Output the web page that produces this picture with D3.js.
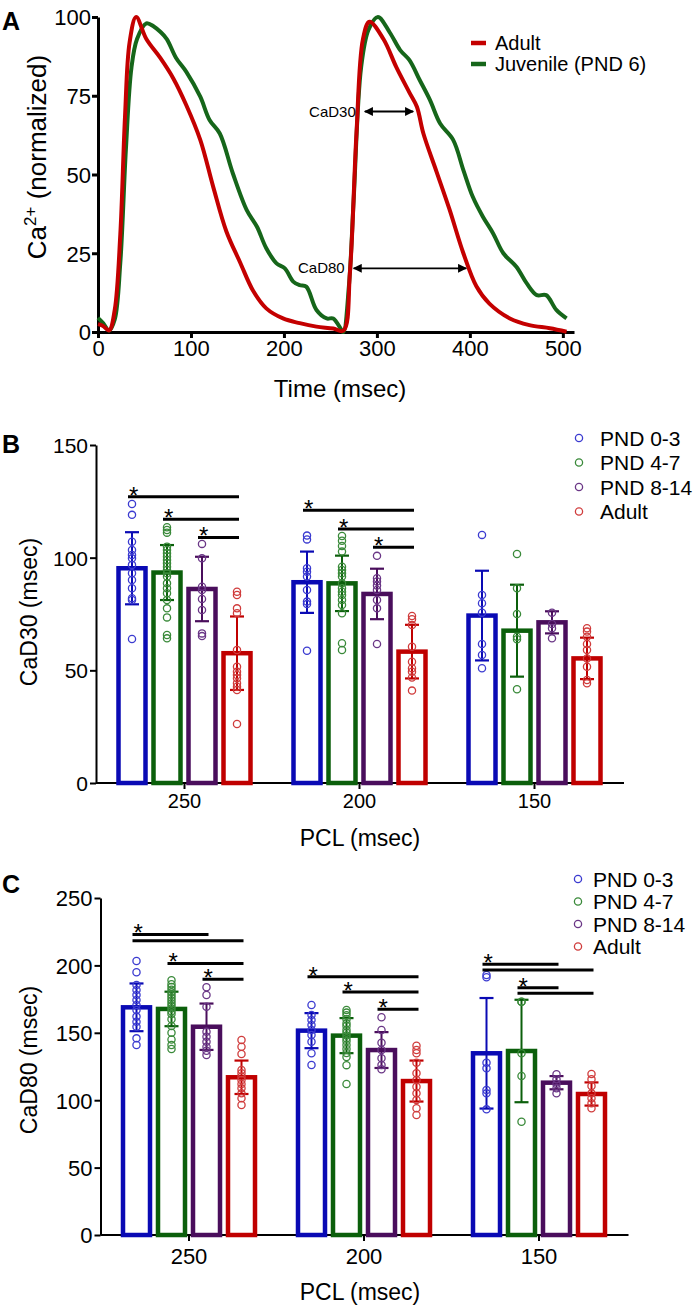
<!DOCTYPE html>
<html><head><meta charset="utf-8">
<script src="https://cdn.jsdelivr.net/npm/d3@7"></script>
<style>body{margin:0;background:#fff}svg{display:block;font-family:"Liberation Sans",Arial,sans-serif}</style>
</head><body><svg id="c" width="696" height="1307"></svg>
<script>
// ---------- Panel A data ----------
const adultT = [0,5,12,18,24,29,34,41,52,67,81,95,110,124,138,153,167,181,199,217,235,253,264,271,278,285,292,307,321,335,343,350,364,378,393,407,421,443,464,486,504];
const adultV = [2.5,2,0.5,7,31,68,92,100,93,87,80.5,72,61,46,32,22,13,7.5,4.3,2.8,1.7,1.1,0.4,19,63,93,98.5,93,84,76,71.5,63,51,39,25,14.5,9,4.3,2.2,1.2,0.1];
const juvT = [0,5,12,18,24,30,36,42,52,60,67,74,84,95,110,120,131,145,160,171,181,192,201,210,217,224,235,246,253,262,264,270,275,283,291,301,314,325,335,346,357,368,382,393,403,414,425,436,450,461,472,482,493,504];
const juvV = [4.5,3,0.5,4,22,58,84,93,98,97,95.3,93,87,82.6,74.7,67.3,63,50.4,38.7,33.4,26.6,21.8,20.2,16,14.9,14.4,7,4.3,4.3,0.6,0,15,42,84,96,100,95,89.5,86.3,80,73.7,66.2,61,51.4,43,36.6,31.3,25,20.7,15.5,11.7,11.7,7,4.3];
const aXTicks = [0,100,200,300,400,500];
const aYTicks = [0,25,50,75,100];
const aLegend = ["Adult","Juvenile (PND 6)"];
// CaD annotations: [label, t start, t end, level]
const aAnnot = [["CaD30",287,339,70],["CaD80",275,396,20.2]];

// ---------- Panels B / C data ----------
const groups = ["250","200","150"];
const series = ["PND 0-3","PND 4-7","PND 8-14","Adult"];

const cad30Mean = [[95.3,93.4,86.1,57.6],[89.1,88.6,83.9,58.3],[74.3,67.6,71.3,55.3]];
const cad30Sd = [[16,12.2,14.3,16.3],[13.6,12.3,11.2,11.9],[19.9,20.4,4.9,9.2]];
const cad30Pts250 = [[123.8,119,107.1,103.4,101.2,99.7,96.8,93.1,90.1,86.4,82,81.2,63.9],
  [113.5,112.3,111.1,104.9,103.4,102,100.5,99,97.5,96,94.5,93.1,91.6,88.6,86.4,84.2,81.2,77.5,73.5,65.7,64.2],
  [106.1,99.7,87.1,85.7,81.7,76.8,66.4,65.2],
  [84.9,83.4,77.5,75.3,59,51.6,49.4,47.9,46.5,44.3,42.7,41.3,26.2]];
const cad30Pts200 = [[109.8,108.1,95.3,93.8,91.6,85.7,80.5,79.4,58.7],
  [109.6,107.5,105.2,102.7,96,94.5,93.1,91.6,88.6,86.4,84.9,83.4,81.2,79,75.3,62,59],
  [100.8,90.9,89.4,87.6,85.7,81.2,77.5,61.7],
  [74.1,72.7,70.1,60.5,53.8,50.9,49.4,46.8,41]];
const cad30Pts150 = [[110.1,83.4,79.8,75.6,61.7,56.8,50.9],
  [101.6,86.4,75,64.9,63.8,41.6],
  [75.6,70.6,68.7,64.2],
  [68.7,67.2,64.9,61.7,59,55.3,51.6,45.7,44.3]];
// [group, from series, to series, level, star]
const cad30Sig = [[0,0,3,127,1],[0,1,3,117,1],[0,2,3,109,1],[1,0,3,121,1],[1,1,3,112.7,1],[1,2,3,104.6,1]];
const cad30Ticks = [0,50,100,150];

const cad80Mean = [[168.9,167.7,154.5,117],[151.6,147.9,137.2,114.2],[134.8,136.5,113,104.6]];
const cad80Sd = [[17.7,12.8,17.2,12.4],[13,13,13.3,15.2],[41,38,4.9,8.6]];
const cad80Pts250 = [[203.3,194.9,185.5,181.8,178,174.3,170.6,166.9,162,158.2,154.5,145.9,141],
  [189,186,184,182,180,178,176,174,172,170,168,166,164,160,155,150,145,141,138],
  [183.8,178,169.4,150.8,147.1,143.4,139.7,136.7,133.5],
  [144.7,139.7,134.3,122.4,120,117.4,115,112,108.8,105.1,101.4,96.4]];
const cad80Pts200 = [[170.6,163.2,159.5,155.8,152.1,148.4,143.4,134.8,126.1],
  [167,165,163,160,157,155,152,150,148,146,144,141,138,135,132,126,112],
  [161.5,152.1,142.7,137.2,131.1,126.1,122.9],
  [140.4,137.2,134.8,127.8,120,115,110,105.1,100.1,94,89]];
const cad80Pts150 = [[192.9,191.2,127.8,123.7,107.6,105.1,93.2],
  [173.1,173.1,134.8,117.9,84],
  [119.2,115.5,112,108.8,105.1],
  [119.4,115.5,110.5,105.1,101.4,97.7,94]];
const cad80Sig = [[0,0,2,223,1],[0,0,3,218.3,0],[0,1,3,201.5,1],[0,2,3,189.7,1],
  [1,0,3,191.6,1],[1,1,3,180.3,1],[1,2,3,167.4,1],
  [2,0,2,200.8,1],[2,0,3,196.6,0],[2,1,2,183.5,1],[2,1,3,179.3,0]];
const cad80Ticks = [0,50,100,150,200,250];

const barColors = ["#0a0ab4","#0b5f0b","#4a0e5c","#c00000"];
const dotColors = ["#3b3bd0","#3a8a3a","#6a3686","#d03c3c"];
const curveRed = "#c40000", curveGreen = "#16661a";
const FONT = '"Liberation Sans", Arial, sans-serif';

const svg = d3.select("#c");

function styleAxis(a, w){
  a.attr("font-family", FONT).attr("font-size", null);
  a.select(".domain").attr("stroke","#000").attr("stroke-width",w);
  a.selectAll(".tick line").attr("stroke","#000").attr("stroke-width",w);
  a.selectAll(".tick text").attr("fill","#000");
}

// ================= Panel A =================
const xA = d3.scaleLinear().domain([0,512]).range([98,574]);
const yA = d3.scaleLinear().domain([0,100]).range([332,17]);
const gA = svg.append("g");

const ax = gA.append("g").attr("transform","translate(0,332)")
  .call(d3.axisBottom(xA).tickValues(aXTicks).tickSize(6).tickSizeOuter(0).tickPadding(2));
const ay = gA.append("g").attr("transform","translate(98,0)")
  .call(d3.axisLeft(yA).tickValues(aYTicks).tickSize(6).tickSizeOuter(0).tickPadding(1));
[ax,ay].forEach(a=>{ styleAxis(a,3); a.selectAll(".tick text").attr("font-size",22); });
ay.selectAll(".tick text").attr("dy","0.36em");

const lineA = (T) => d3.line().x((d,i)=>xA(T[i])).y(d=>yA(d)).curve(d3.curveCatmullRom.alpha(0.5));
gA.append("path").datum(juvV).attr("d",lineA(juvT)).attr("fill","none").attr("stroke",curveGreen).attr("stroke-width",4).attr("stroke-linejoin","round");
gA.append("path").datum(adultV).attr("d",lineA(adultT)).attr("fill","none").attr("stroke",curveRed).attr("stroke-width",4).attr("stroke-linejoin","round");

// arrows
const defs = svg.append("defs");
defs.append("marker").attr("id","arre").attr("viewBox","0 0 10 10")
  .attr("refX",9).attr("refY",5).attr("markerWidth",11).attr("markerHeight",9)
  .attr("markerUnits","userSpaceOnUse").attr("orient","auto-start-reverse")
  .append("path").attr("d","M0,0 L10,5 L0,10 Z").attr("fill","#000");
aAnnot.forEach(a=>{
  gA.append("line").attr("x1",xA(a[1])).attr("x2",xA(a[2])).attr("y1",yA(a[3])).attr("y2",yA(a[3]))
    .attr("stroke","#000").attr("stroke-width",1.8)
    .attr("marker-start","url(#arre)").attr("marker-end","url(#arre)");
  gA.append("text").attr("x",xA(a[1])-9).attr("y",yA(a[3])+5).attr("text-anchor","end")
    .attr("font-size",15).text(a[0]);
});

// legend A
aLegend.forEach((t,i)=>{
  const yy = 43 + i*21;
  gA.append("line").attr("x1",471).attr("x2",486).attr("y1",yy).attr("y2",yy)
    .attr("stroke", i===0?curveRed:curveGreen).attr("stroke-width",4.5);
  gA.append("text").attr("x",495).attr("y",yy+7).attr("font-size",20).text(t);
});

// titles A
gA.append("text").attr("x",340).attr("y",397).attr("text-anchor","middle").attr("font-size",24).text("Time (msec)");
const ta = gA.append("text").attr("transform","translate(46,157) rotate(-90)").attr("text-anchor","middle").attr("font-size",26);
ta.append("tspan").text("Ca");
ta.append("tspan").attr("font-size",17).attr("dy",-10).text("2+");
ta.append("tspan").attr("dy",10).text(" (normalized)");
svg.append("text").attr("x",2).attr("y",30).attr("font-size",25).attr("font-weight","bold").text("A");

// ================= Bar panels =================
function barPanel(o){
  const g = svg.append("g");
  const x0 = d3.scaleBand().domain(groups).range(o.xr).paddingInner(0.2).paddingOuter(0.1);
  const x1 = d3.scaleBand().domain(series).range([0,x0.bandwidth()]).paddingInner(0.1).paddingOuter(0.05);
  const y = d3.scaleLinear().domain([0,o.ymax]).range(o.yr);
  const cx = (gi,si)=> x0(groups[gi]) + x1(series[si]) + x1.bandwidth()/2;
  const sw = 4.5;

  // axes
  const xa = g.append("g").attr("transform",`translate(0,${o.yr[0]})`)
    .call(d3.axisBottom(x0).tickSize(6).tickSizeOuter(0).tickPadding(o.xpad));
  xa.select(".domain").attr("d",`M${o.xr[0]-1},0H${o.xr[1]+2}`);
  const ya = g.append("g").attr("transform",`translate(${o.xr[0]-1},0)`)
    .call(d3.axisLeft(y).tickValues(o.ticks).tickSize(6).tickSizeOuter(0).tickPadding(2));
  [xa,ya].forEach(a=>styleAxis(a,2));
  xa.selectAll(".tick text").attr("font-size",o.xfs);
  ya.selectAll(".tick text").attr("font-size",o.yfs).attr("dy","0.36em");

  groups.forEach((gname,gi)=>{
    series.forEach((s,si)=>{
      const m = o.mean[gi][si];
      const left = x0(gname)+x1(s);
      g.append("rect").attr("x",left+sw/2).attr("width",x1.bandwidth()-sw)
        .attr("y",y(m)).attr("height",y(0)-y(m))
        .attr("fill","#fff").attr("stroke",barColors[si]).attr("stroke-width",sw);
    });
  });
  groups.forEach((gname,gi)=>{
    series.forEach((s,si)=>{
      const m = o.mean[gi][si], sd = o.sd[gi][si], c = cx(gi,si);
      g.append("line").attr("x1",c).attr("x2",c).attr("y1",y(m+sd)).attr("y2",y(m-sd))
        .attr("stroke",barColors[si]).attr("stroke-width",2);
      [m+sd,m-sd].forEach(v=>g.append("line").attr("x1",c-7).attr("x2",c+7).attr("y1",y(v)).attr("y2",y(v))
        .attr("stroke",barColors[si]).attr("stroke-width",2.2));
      g.selectAll(null).data(o.pts[gi][si]).join("circle")
        .attr("cx",c).attr("cy",d=>y(d)).attr("r",3.6)
        .attr("fill","none").attr("stroke",dotColors[si]).attr("stroke-width",1.3);
    });
  });
  // significance
  o.sig.forEach(s=>{
    const xs = cx(s[0],s[1]) - 4, xe = cx(s[0],s[2]) + 2, yy = y(s[3]);
    g.append("line").attr("x1",xs).attr("x2",xe).attr("y1",yy).attr("y2",yy)
      .attr("stroke","#000").attr("stroke-width",3);
    if(s[4]) g.append("text").attr("x",xs+1).attr("y",yy+7).attr("font-size",24).text("*");
  });
  // legend
  series.forEach((s,i)=>{
    const yy = o.legY + i*o.legDy;
    g.append("circle").attr("cx",o.legX).attr("cy",yy).attr("r",3.6).attr("fill","none")
      .attr("stroke",dotColors[i]).attr("stroke-width",1.3);
    g.append("text").attr("x",o.legTx).attr("y",yy+7.5).attr("font-size",21).text(s);
  });
  // titles
  g.append("text").attr("x",o.xtx).attr("y",o.xty).attr("text-anchor","middle").attr("font-size",23).text("PCL (msec)");
  g.append("text").attr("transform",`translate(37,${o.ytc}) rotate(-90)`).attr("text-anchor","middle")
    .attr("font-size",23).text(o.ytitle);
  svg.append("text").attr("x",2).attr("y",o.letY).attr("font-size",25).attr("font-weight","bold").text(o.letter);
}

barPanel({xr:[97,622], yr:[783,445], ymax:150, ticks:cad30Ticks, mean:cad30Mean, sd:cad30Sd,
  pts:[cad30Pts250,cad30Pts200,cad30Pts150], sig:cad30Sig, xpad:5, xfs:20, yfs:21,
  legX:579, legTx:600, legY:438, legDy:24.5, xtx:360, xty:846, ytc:612, ytitle:"CaD30 (msec)", letter:"B", letY:453});
barPanel({xr:[101.5,626.5], yr:[1235,898], ymax:250, ticks:cad80Ticks, mean:cad80Mean, sd:cad80Sd,
  pts:[cad80Pts250,cad80Pts200,cad80Pts150], sig:cad80Sig, xpad:7, xfs:22, yfs:22,
  legX:578, legTx:593, legY:879, legDy:22.5, xtx:360, xty:1300, ytc:1060, ytitle:"CaD80 (msec)", letter:"C", letY:893});
</script></body></html>
